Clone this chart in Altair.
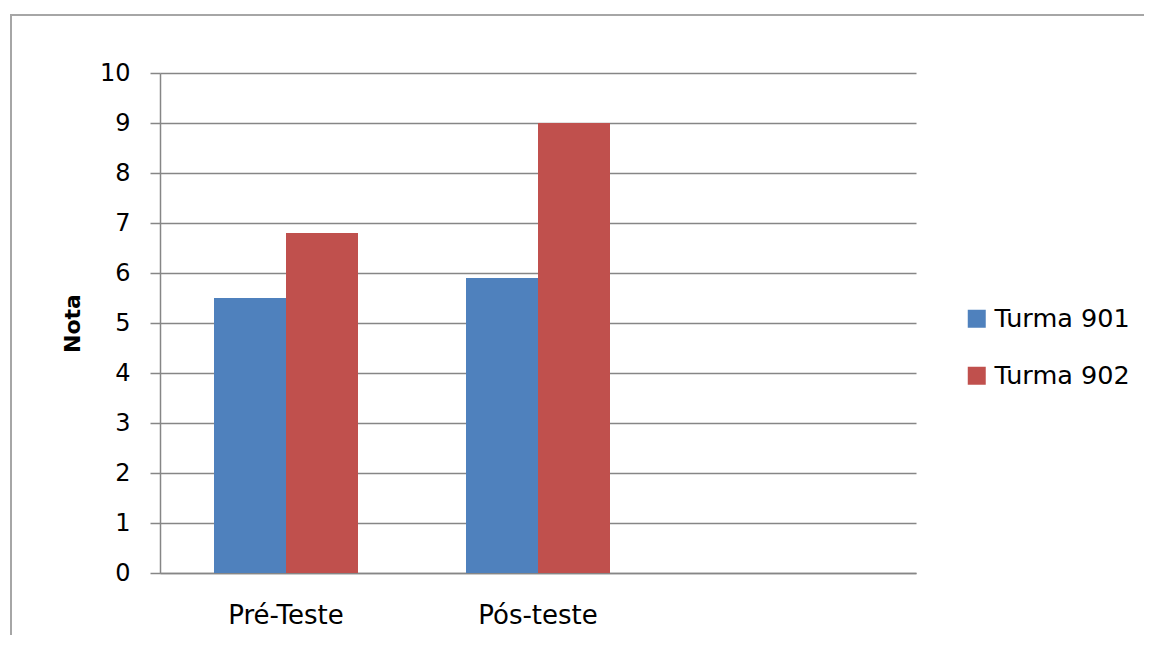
import altair as alt
import pandas as pd

categories = ["Pré-Teste", "Pós-teste"]
x_domain = ["Pré-Teste", "Pós-teste", ""]
series = ["Turma 901", "Turma 902"]
turma_901 = [5.5, 5.9]
turma_902 = [6.8, 9.0]
colors = ["#4F81BD", "#C0504D"]
y_ticks = list(range(0, 11))

rows = []
for i, c in enumerate(categories):
    rows.append({"Teste": c, "Turma": series[0], "Nota": turma_901[i]})
    rows.append({"Teste": c, "Turma": series[1], "Nota": turma_902[i]})
df = pd.DataFrame(rows)

FONT = "DejaVu Sans"

bars = alt.Chart(df).mark_bar(stroke=None).encode(
    x=alt.X("Teste:N", sort=x_domain,
            scale=alt.Scale(domain=x_domain, paddingInner=0.4286, paddingOuter=0.2143),
            axis=alt.Axis(title=None, labelAngle=0, ticks=False, domain=True,
                          domainColor="#868686", domainWidth=1.5,
                          labelFontSize=26, labelFont=FONT, labelColor="#000000",
                          labelPadding=29, grid=False)),
    xOffset=alt.XOffset("Turma:N", sort=series, scale=alt.Scale(domain=series, paddingInner=0, paddingOuter=0)),
    y=alt.Y("Nota:Q", scale=alt.Scale(domain=[0, 10], nice=False),
            axis=alt.Axis(title="Nota", values=y_ticks, tickSize=10, tickColor="#868686",
                          tickWidth=1.5, domainColor="#868686", domainWidth=1.5,
                          gridColor="#868686", gridWidth=1.5,
                          labelFontSize=24, labelFont=FONT, labelColor="#000000",
                          labelPadding=20, titleFontSize=22, titleFont=FONT,
                          titleFontWeight="bold", titleColor="#000000",
                          titleAngle=-90, titleX=-88, titleY=250,
                          titleAlign="center", titleBaseline="middle")),
    color=alt.Color("Turma:N", sort=series,
                    scale=alt.Scale(domain=series, range=colors),
                    legend=alt.Legend(title=None, orient="none", legendX=804, legendY=233,
                                      symbolType="square", symbolSize=324,
                                      symbolStrokeWidth=0, labelFontSize=25.5,
                                      labelFont=FONT, labelColor="#000000",
                                      labelOffset=5, rowPadding=30, padding=0)),
)

frame = alt.Chart(alt.Data(values=[{}])).mark_rect(
    fill="transparent", stroke="#a6a6a6", strokeWidth=2
).encode(
    x=alt.value(-149), x2=alt.value(1200), y=alt.value(-58), y2=alt.value(800)
)

chart = alt.layer(frame, bars).properties(
    width=756, height=500,
    padding={"left": 152, "top": 65, "right": 228, "bottom": 62},
    autosize=alt.AutoSizeParams(type="none"),
    background="white",
).configure_view(stroke=None)

chart.save("out.html", embed_options={"renderer": "svg", "actions": False})
